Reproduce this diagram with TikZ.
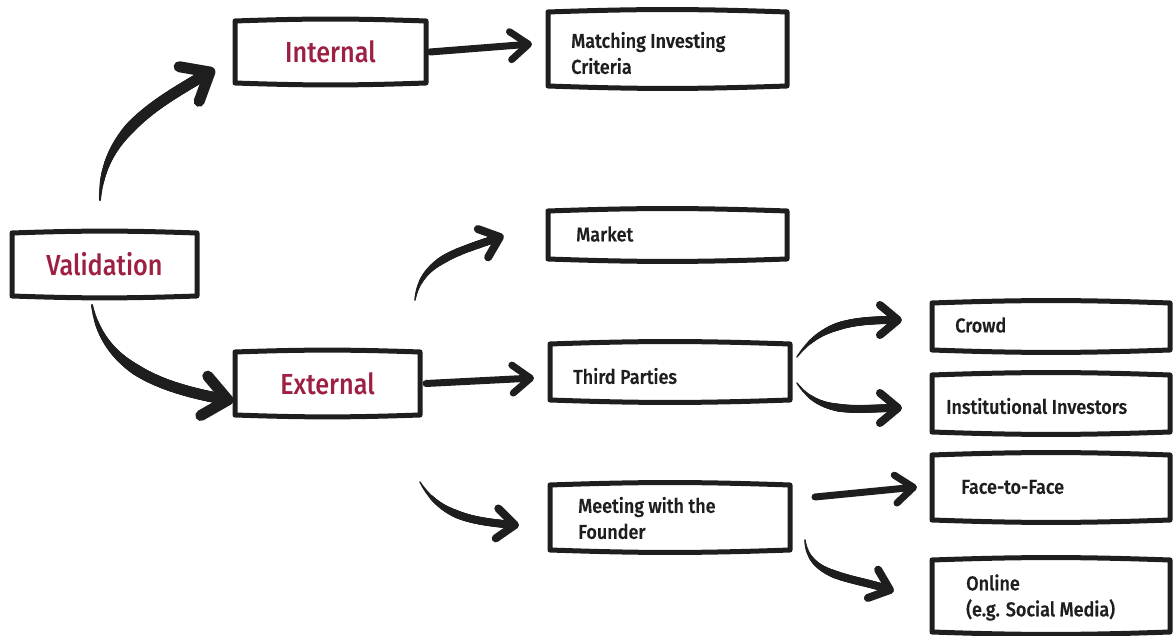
\documentclass[tikz,border=0pt]{standalone}
\usepackage{fontspec}
\setmainfont{Fira Sans}[FakeStretch=0.87, BoldFont={Fira Sans Medium}]
\newfontfamily\boxfont{Fira Sans Medium}[FakeStretch=0.9, FakeBold=0.6]
\usetikzlibrary{arrows.meta, decorations.markings}
\definecolor{wine}{RGB}{157,31,66}
\definecolor{ink}{RGB}{30,30,30}

% hand-drawn looking outline round a box node
\newcommand\sketchbox[1]{%
  \draw[outline] (#1.north west) to[bend left=2] (#1.north east)
    -- (#1.south east) to[bend left=2] (#1.south west) -- cycle;}

% brush-like arrow that swells from a thin start:
% width, head length, head half-width, start, to-options, end
\newcommand\taper[6]{%
  \path[decorate, decoration={markings,
      mark=between positions 0 and 1 step 0.7pt with {%
        \pgfmathsetmacro\rr{min(#1/2, #1/2*(0.2+0.8*\pgfkeysvalueof{/pgf/decoration/mark info/distance from start}/(0.45*\pgfdecoratedpathlength)))}%
        \fill[ink] (0,0) circle[radius=\rr pt];}}]
    #4 to[#5] #6;
  \path[decorate, decoration={markings,
      mark=at position 0.9995 with {%
        \draw[ink, line width=#1 pt, line cap=round, line join=round]
          (-#2,#3) -- (0,0) -- (-#2,-#3);}}]
    #4 to[#5] #6;}

\begin{document}
\begin{tikzpicture}[x=1pt, y=1pt,
  box/.style={rectangle, inner sep=0pt, outer sep=0pt},
  outline/.style={draw=ink, line width=5pt, line join=round, line cap=round},
  head/.style={font=\bfseries\fontsize{29}{32}\selectfont, text=wine},
  txt/.style={font=\boxfont\fontsize{20}{26}\selectfont, text=ink,
              anchor=west, align=left, inner sep=0pt},
  straight/.style={ink, line width=7pt, line cap=round,
                   -{Straight Barb[length=18pt, width=28pt, round]}},
]
\useasboundingbox (0,0) rectangle (1173,635);

% boxes
\node[box, head, minimum width=185, minimum height=63] (val) at (104.5,370.5) {Validation};
\node[box, head, minimum width=191, minimum height=62] (int) at (330.5,583) {Internal};
\node[box, head, minimum width=185, minimum height=63] (ext) at (327.5,251.5) {External};
\node[box, minimum width=239, minimum height=74] (mic) at (667.5,586) {};
\node[box, minimum width=239, minimum height=48] (mkt) at (667.5,400) {};
\node[box, minimum width=240, minimum height=56] (tp) at (670,263) {};
\node[box, minimum width=240, minimum height=65] (mtg) at (670,117.5) {};
\node[box, minimum width=238, minimum height=47] (crowd) at (1051,308.5) {};
\node[box, minimum width=238, minimum height=57] (inst) at (1051,231.5) {};
\node[box, minimum width=238, minimum height=65] (f2f) at (1051,147.5) {};
\node[box, minimum width=238, minimum height=72] (onl) at (1051,39) {};

\foreach \n in {val,int,ext,mic,mkt,tp,mtg,crowd,inst,f2f,onl} {\sketchbox{\n}}

% box texts
\node[txt] (mict) at (571,582) {Matching Investing\\Criteria};
\node[txt] (mktt) at (576,401) {Market};
\node[txt] (tpt) at (573,259) {Third Parties};
\node[txt] (mtgt) at (578,117) {Meeting with the\\Founder};
\node[txt] (crowdt) at (955,310) {Crowd};
\node[txt] (instt) at (946,229) {Institutional Investors};
\node[txt] (f2ft) at (961,148) {Face-to-Face};
\node[txt] (onlt) at (966,37.5) {Online\\(e.g. Social Media)};

% connectors
\taper{11}{24}{20}{([shift={(-4.5,33)}]val.north)}{out=88,in=210}{([shift={(-25,-20)}]int.west)}
\taper{11}{24}{20}{([shift={(-12.5,-9)}]val.south)}{out=-80,in=170}{([shift={(-7,-16.5)}]ext.west)}

\draw[straight] ([xshift=4]int.east) -- ([shift={(-16,5)}]mic.west);
\draw[straight] ([xshift=6]ext.east) -- ([shift={(-16,-6)}]tp.west);
\draw[straight] ([shift={(25,20.5)}]mtg.east) -- ([shift={(-15,0.5)}]f2f.west);

\taper{8}{18}{15}{([shift={(-5,52)}]ext.north east)}{out=82,in=200}{([shift={(-48,-2)}]mkt.west)}
\taper{8}{18}{15}{([shift={(0,-67)}]ext.south east)}{out=-60,in=175}{([shift={(-35,-7.5)}]mtg.west)}
\taper{8}{18}{15}{([shift={(7,15)}]tp.east)}{out=55,in=180}{([shift={(-34,6.5)}]crowd.west)}
\taper{8}{18}{15}{([shift={(7,-11)}]tp.east)}{out=-55,in=180}{([shift={(-34,-4.5)}]inst.west)}
\taper{8}{18}{15}{([shift={(15,-22.5)}]mtg.east)}{out=-85,in=160}{([shift={(-42,6)}]onl.west)}
\end{tikzpicture}
\end{document}
